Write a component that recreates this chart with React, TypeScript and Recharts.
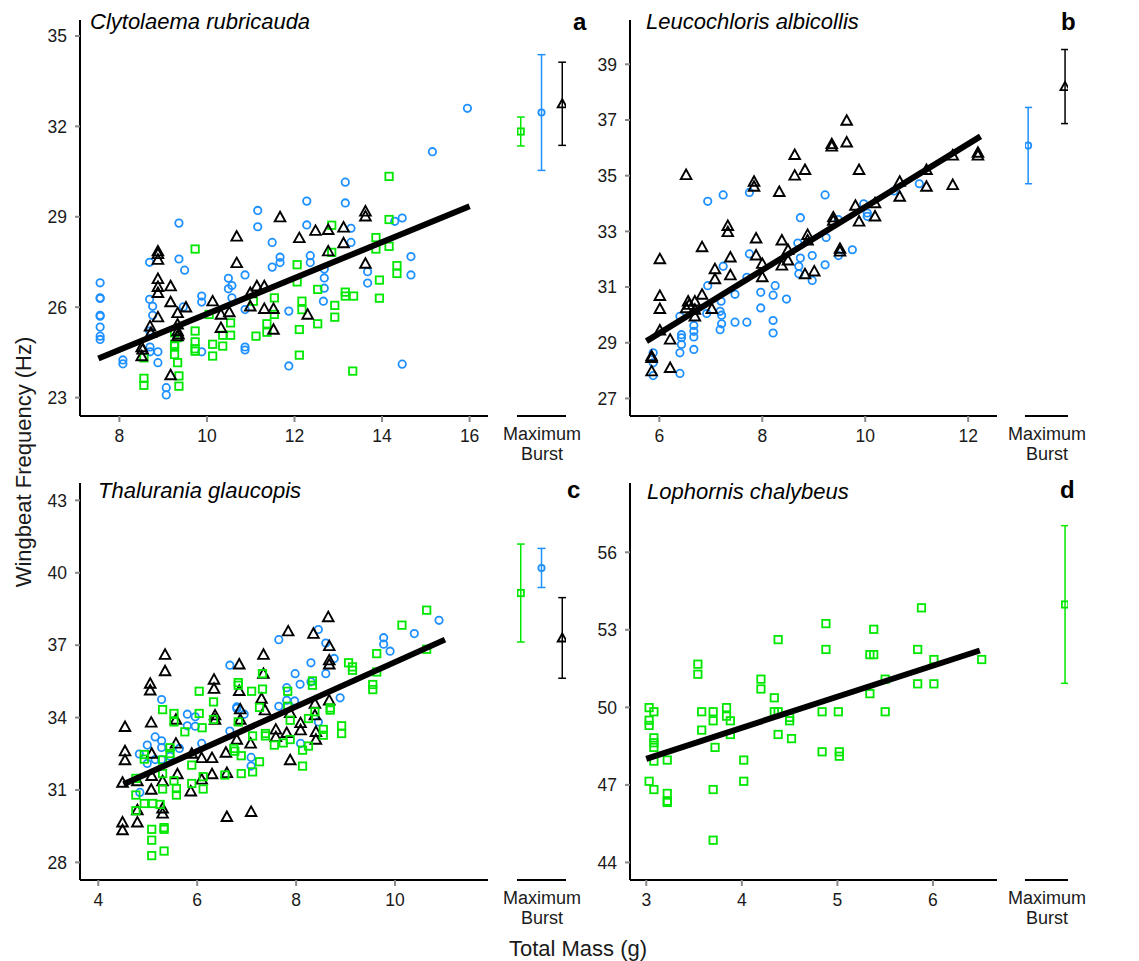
import React from "react";
import { ComposedChart, ErrorBar, Scatter, XAxis, YAxis } from "recharts";

const BLUE = "#1E90FF";
const GREEN = "#00E800";
const BLACK = "#000000";
const FONT = "'Liberation Sans', Arial, Helvetica, sans-serif";

type Row = [number, number];
type Point = { mass: number; hz: number };
type Mark = "circle" | "square" | "triangle";
type BurstPoint = { slot: number; hz: number; sd: number };

// panel a - Clytolaema rubricauda
const aCircles: Row[] = [
  [7.56, 26.81], [7.56, 26.31], [7.56, 26.29], [7.56, 25.73], [7.56, 25.7], [7.56, 25.34], [7.56, 25.04], [7.56, 24.93],
  [8.08, 24.25], [8.08, 24.12], [8.69, 27.49], [8.69, 26.26], [8.76, 26.03], [8.76, 25.73], [8.69, 25.21], [8.7, 24.68],
  [8.7, 24.52], [8.88, 24.52], [8.88, 24.16], [9.07, 23.33], [9.07, 23.09], [9.36, 28.79], [9.36, 27.6], [9.49, 27.23],
  [9.46, 26.01], [9.88, 26.37], [9.88, 26.17], [9.88, 24.52], [10.49, 26.96], [10.49, 26.61], [10.57, 26.72], [10.57, 26.31],
  [10.87, 27.07], [10.87, 25.92], [10.87, 24.68], [10.87, 24.58], [11.16, 29.21], [11.16, 28.67], [11.49, 28.15], [11.49, 27.33],
  [11.67, 27.66], [11.67, 27.48], [11.87, 25.87], [11.87, 24.05], [12.28, 29.52], [12.28, 28.73], [12.36, 27.71], [12.36, 27.48],
  [12.68, 27.27], [12.68, 26.97], [12.68, 26.63], [12.66, 26.2], [13.16, 30.15], [13.16, 29.46], [13.29, 28.62], [13.29, 28.15],
  [13.67, 27.18], [13.67, 26.8], [14.29, 28.85], [14.46, 28.96], [14.66, 27.68], [14.66, 27.07], [14.46, 24.11], [15.15, 31.16],
  [15.95, 32.6],
];
const aTriangles: Row[] = [
  [8.51, 24.68], [8.51, 24.38], [8.53, 24.6], [8.7, 25.37], [8.72, 25.15], [8.88, 27.86], [8.88, 27.77], [8.88, 27.58],
  [8.88, 26.94], [8.88, 26.68], [8.88, 26.48], [8.88, 25.67], [9.17, 26.7], [9.17, 26.17], [9.17, 23.75], [9.33, 25.81],
  [9.33, 25.43], [9.33, 25.21], [9.35, 25.1], [9.33, 25.04], [9.52, 26.0], [10.13, 26.2], [10.32, 25.76], [10.32, 25.32],
  [10.51, 25.84], [10.68, 28.35], [10.68, 27.47], [10.99, 26.48], [10.99, 26.03], [11.14, 26.7], [11.31, 26.7], [11.31, 25.95],
  [11.52, 25.95], [11.52, 25.26], [11.67, 28.99], [12.11, 28.3], [12.3, 25.76], [12.48, 28.54], [12.77, 28.57], [12.77, 27.86],
  [13.12, 28.65], [13.12, 28.13], [13.62, 29.18], [13.62, 29.02], [13.62, 27.45],
];
const aSquares: Row[] = [
  [8.56, 24.32], [8.56, 23.64], [8.56, 23.41], [9.26, 25.15], [9.26, 24.77], [9.26, 24.71], [9.26, 24.43], [9.33, 24.99],
  [9.33, 24.16], [9.36, 23.72], [9.36, 23.38], [9.73, 27.93], [9.73, 25.21], [9.73, 24.85], [9.73, 24.62], [9.73, 24.54],
  [10.05, 25.76], [10.13, 24.77], [10.13, 24.38], [10.36, 25.07], [10.36, 24.71], [10.54, 25.48], [10.54, 25.07], [11.06, 26.2],
  [11.12, 25.04], [11.37, 25.45], [11.37, 25.17], [11.54, 26.31], [11.54, 25.76], [12.06, 27.41], [12.06, 26.84], [12.11, 25.26],
  [12.11, 24.41], [12.17, 26.2], [12.17, 25.92], [12.53, 26.59], [12.53, 25.45], [12.85, 28.72], [12.85, 27.82], [12.92, 26.06],
  [12.92, 25.67], [13.16, 26.5], [13.16, 26.37], [13.35, 26.37], [13.33, 23.88], [13.86, 28.31], [13.86, 27.93], [13.94, 26.9],
  [13.94, 26.3], [14.16, 30.34], [14.16, 28.91], [14.16, 28.02], [14.34, 27.38], [14.34, 27.12],
];
const aFit: Row[] = [[7.52, 24.3], [16.0, 29.35]];
const aBurstSquare: BurstPoint[] = [{ slot: 0, hz: 31.83, sd: 0.48 }];
const aBurstCircle: BurstPoint[] = [{ slot: 1, hz: 32.46, sd: 1.92 }];
const aBurstTriangle: BurstPoint[] = [{ slot: 2, hz: 32.75, sd: 1.38 }];

// panel b - Leucochloris albicollis
const bTriangles: Row[] = [
  [5.85, 28.52], [5.85, 28.46], [5.85, 27.98], [6.01, 32.01], [6.01, 30.69], [6.01, 30.22], [6.01, 29.45], [6.21, 29.12],
  [6.21, 28.1], [6.52, 35.03], [6.52, 30.25], [6.56, 30.49], [6.58, 30.37], [6.69, 30.49], [6.69, 30.19], [6.69, 29.95],
  [6.83, 32.44], [6.83, 30.73], [7.02, 30.22], [7.08, 31.65], [7.08, 31.29], [7.33, 33.2], [7.33, 32.98], [7.38, 32.07],
  [7.38, 31.43], [7.84, 34.79], [7.84, 34.61], [7.88, 32.75], [7.88, 32.14], [8.0, 31.84], [8.0, 31.36], [8.33, 34.42],
  [8.38, 32.68], [8.38, 31.78], [8.5, 32.34], [8.5, 31.96], [8.63, 35.75], [8.63, 35.01], [8.83, 35.21], [8.83, 31.47],
  [8.88, 32.88], [8.88, 32.68], [9.01, 31.57], [9.35, 36.14], [9.35, 36.05], [9.38, 33.51], [9.38, 33.39], [9.51, 32.38],
  [9.51, 32.28], [9.64, 36.98], [9.64, 36.2], [9.81, 33.93], [9.88, 35.21], [9.88, 33.36], [10.19, 34.02], [10.19, 33.54],
  [10.67, 34.79], [10.67, 34.25], [11.19, 35.21], [11.19, 34.61], [11.7, 35.73], [11.7, 34.67], [12.19, 35.83], [12.19, 35.73],
];
const bCircles: Row[] = [
  [5.88, 28.64], [5.88, 28.28], [5.88, 27.82], [6.4, 29.95], [6.4, 28.64], [6.4, 27.9], [6.43, 29.29], [6.43, 29.18],
  [6.43, 28.94], [6.67, 29.62], [6.67, 29.41], [6.67, 29.21], [6.67, 28.76], [6.92, 30.05], [6.94, 31.05], [6.94, 34.08],
  [7.18, 30.13], [7.2, 30.49], [7.21, 29.99], [7.21, 29.68], [7.18, 29.47], [7.24, 34.31], [7.24, 31.75], [7.47, 30.74],
  [7.47, 29.74], [7.7, 29.74], [7.7, 31.35], [7.75, 34.4], [7.75, 32.19], [7.97, 30.81], [7.97, 30.25], [8.21, 30.71],
  [8.21, 29.35], [8.25, 31.05], [8.21, 29.8], [8.47, 30.57], [8.69, 32.58], [8.71, 31.75], [8.71, 31.48], [8.74, 33.49],
  [8.74, 32.04], [8.97, 32.13], [8.97, 31.24], [9.22, 34.31], [9.22, 31.8], [9.24, 32.78], [9.48, 32.13], [9.48, 33.42],
  [9.75, 32.34], [9.97, 33.99], [10.04, 33.66], [10.04, 33.54], [10.56, 34.45], [11.05, 34.71],
];
const bFit: Row[] = [[5.75, 29.06], [12.24, 36.41]];
const bBurstCircle: BurstPoint[] = [{ slot: 0, hz: 36.08, sd: 1.37 }];
const bBurstTriangle: BurstPoint[] = [{ slot: 2, hz: 38.2, sd: 1.33 }];

// panel c - Thalurania glaucopis
const cTriangles: Row[] = [
  [4.49, 31.31], [4.49, 29.66], [4.49, 29.34], [4.54, 33.62], [4.54, 32.61], [4.54, 32.24], [4.79, 30.17], [4.79, 29.66],
  [4.79, 31.37], [5.05, 35.41], [5.05, 35.13], [5.07, 33.8], [5.07, 31.02], [5.08, 32.51], [5.08, 31.59], [5.3, 30.24],
  [5.3, 30.03], [5.3, 31.37], [5.35, 36.61], [5.35, 35.93], [5.57, 32.93], [5.57, 33.92], [5.6, 31.66], [5.87, 30.95],
  [5.89, 32.51], [6.09, 32.33], [6.09, 31.44], [6.3, 32.33], [6.3, 31.66], [6.34, 35.58], [6.34, 35.2], [6.36, 34.1],
  [6.36, 33.92], [6.58, 32.55], [6.6, 31.71], [6.6, 29.89], [6.8, 33.09], [6.85, 36.21], [6.85, 35.11], [6.87, 34.35],
  [6.87, 33.92], [7.08, 32.93], [7.09, 30.1], [7.3, 34.79], [7.34, 36.61], [7.34, 35.82], [7.37, 34.31], [7.59, 33.51],
  [7.59, 33.2], [7.81, 33.37], [7.84, 37.58], [7.88, 32.24], [7.88, 34.2], [8.09, 33.78], [8.09, 33.48], [8.35, 37.48],
  [8.38, 34.58], [8.38, 34.1], [8.4, 33.41], [8.4, 33.09], [8.65, 38.17], [8.67, 36.97], [8.67, 36.38], [8.67, 36.21],
  [8.67, 34.72],
];
const cCircles: Row[] = [
  [4.83, 32.49], [4.84, 30.9], [4.99, 32.86], [4.99, 32.1], [5.15, 33.2], [5.15, 32.26], [5.28, 34.75], [5.28, 33.04],
  [5.28, 32.76], [5.28, 32.26], [5.45, 32.4], [5.64, 32.72], [5.8, 34.14], [5.8, 33.66], [5.96, 34.03], [5.96, 33.64],
  [6.09, 32.93], [6.66, 36.17], [6.66, 33.44], [6.8, 34.44], [6.8, 34.38], [6.95, 34.14], [7.09, 32.35], [7.09, 31.99],
  [7.65, 37.23], [7.65, 34.47], [7.81, 35.24], [7.81, 34.72], [7.97, 34.69], [7.98, 35.82], [8.08, 35.38], [8.09, 32.93],
  [8.3, 36.27], [8.3, 35.48], [8.45, 37.65], [8.45, 33.82], [8.6, 37.09], [8.6, 35.82], [8.77, 36.45], [8.89, 34.82],
  [9.77, 37.31], [9.77, 37.04], [9.9, 36.75], [10.39, 37.48], [10.89, 38.03],
];
const cSquares: Row[] = [
  [4.76, 31.48], [4.76, 30.79], [4.76, 30.14], [4.93, 32.47], [4.93, 32.28], [4.93, 30.44], [5.1, 30.44], [5.08, 29.37],
  [5.08, 28.92], [5.08, 28.28], [5.25, 30.4], [5.3, 34.33], [5.3, 32.24], [5.3, 31.68], [5.3, 31.04], [5.33, 29.44],
  [5.33, 29.37], [5.33, 28.47], [5.45, 32.75], [5.45, 32.51], [5.53, 34.17], [5.53, 33.82], [5.53, 31.38], [5.58, 31.06],
  [5.58, 30.79], [5.75, 33.41], [5.89, 32.03], [5.89, 31.27], [6.04, 35.09], [6.04, 34.17], [6.1, 33.58], [6.12, 31.55],
  [6.12, 31.04], [6.33, 34.65], [6.33, 33.92], [6.56, 31.62], [6.74, 32.72], [6.76, 32.61], [6.83, 35.45], [6.83, 35.34],
  [6.83, 33.82], [6.89, 32.42], [6.89, 31.68], [7.1, 35.09], [7.12, 33.24], [7.12, 31.75], [7.26, 32.17], [7.26, 34.42],
  [7.32, 35.82], [7.32, 35.18], [7.38, 33.34], [7.38, 33.24], [7.56, 32.86], [7.74, 32.95], [7.83, 35.09], [7.83, 34.47],
  [7.88, 33.89], [7.88, 33.09], [8.13, 32.65], [8.13, 31.99], [8.25, 32.82], [8.25, 33.96], [8.33, 35.52], [8.33, 35.34],
  [8.38, 34.24], [8.55, 33.51], [8.55, 33.27], [8.69, 34.4], [8.69, 34.31], [8.92, 33.66], [8.92, 33.34], [9.06, 36.27],
  [9.14, 36.1], [9.14, 35.96], [9.55, 35.37], [9.55, 35.16], [9.63, 36.65], [9.63, 35.89], [10.14, 37.83], [10.64, 38.45],
  [10.64, 36.83],
];
const cFit: Row[] = [[4.51, 31.24], [11.01, 37.23]];
const cBurstSquare: BurstPoint[] = [{ slot: 0, hz: 39.16, sd: 2.03 }];
const cBurstCircle: BurstPoint[] = [{ slot: 1, hz: 40.2, sd: 0.81 }];
const cBurstTriangle: BurstPoint[] = [{ slot: 2, hz: 37.3, sd: 1.67 }];

// panel d - Lophornis chalybeus
const dSquares: Row[] = [
  [3.03, 49.99], [3.03, 49.5], [3.03, 49.3], [3.03, 47.14], [3.08, 49.83], [3.08, 48.82], [3.08, 48.63], [3.08, 48.45],
  [3.08, 47.92], [3.08, 46.82], [3.22, 47.96], [3.22, 46.67], [3.22, 46.37], [3.22, 46.32], [3.54, 51.67], [3.54, 51.28],
  [3.58, 49.83], [3.58, 49.12], [3.7, 49.83], [3.7, 49.48], [3.7, 46.82], [3.7, 44.86], [3.72, 48.45], [3.84, 49.99],
  [3.84, 49.66], [3.88, 49.48], [3.88, 48.95], [4.02, 47.96], [4.02, 47.14], [4.2, 51.09], [4.2, 50.71], [4.34, 50.37],
  [4.34, 49.83], [4.38, 52.62], [4.38, 49.83], [4.38, 48.95], [4.5, 49.61], [4.5, 49.48], [4.52, 48.79], [4.84, 49.83],
  [4.84, 48.28], [4.88, 53.24], [4.88, 52.24], [5.01, 49.83], [5.02, 48.28], [5.02, 48.11], [5.34, 52.04], [5.34, 50.53],
  [5.38, 53.02], [5.38, 52.04], [5.5, 51.09], [5.5, 49.83], [5.84, 52.24], [5.84, 50.91], [5.88, 53.85], [6.01, 51.85],
  [6.01, 50.91], [6.51, 51.85],
];
const dFit: Row[] = [[3.0, 48.01], [6.49, 52.2]];
const dBurstSquare: BurstPoint[] = [{ slot: 2, hz: 53.98, sd: 3.05 }];

const toPoints = (rows: Row[]): Point[] => rows.map(([mass, hz]) => ({ mass, hz }));

function marker(kind: Mark, color: string, scale = 1) {
  return (props: any) => {
    const { cx, cy } = props;
    if (cx == null || cy == null) return <g />;
    if (kind === "circle") {
      return <circle cx={cx} cy={cy} r={3.7 * scale} fill="none" stroke={color} strokeWidth={1.8} />;
    }
    if (kind === "square") {
      const h = 3.7 * scale;
      return <rect x={cx - h} y={cy - h} width={2 * h} height={2 * h} fill="none" stroke={color} strokeWidth={1.8} />;
    }
    const s = 5.3 * scale;
    return (
      <polygon
        points={`${cx},${cy - s} ${cx - s},${cy + s * 0.8} ${cx + s},${cy + s * 0.8}`}
        fill="none"
        stroke={color}
        strokeWidth={1.9}
      />
    );
  };
}

const colorOf: Record<Mark, string> = { circle: BLUE, square: GREEN, triangle: BLACK };

type PanelProps = {
  plotLeft: number;
  plotTop: number;
  plotWidth: number;
  plotHeight: number;
  xDomain: [number, number];
  yDomain: [number, number];
  xTicks: number[];
  yTicks: number[];
  series: Array<{ mark: Mark; rows: Row[] }>;
  fit: Row[];
  burst: Array<{ mark: Mark; data: BurstPoint[] }>;
  burstLeft: number;
  burstWidth: number;
  burstDomain: [number, number];
};

const axisLineStyle = { stroke: "#000", strokeWidth: 2 };
const tickLineStyle = { stroke: "#8a8a8a", strokeWidth: 2 };

function XTick(props: any) {
  return (
    <text x={props.x} y={props.y} dy="0.75em" textAnchor="middle" fontSize={17.5} fontFamily={FONT} fill="#1a1a1a">
      {props.payload.value}
    </text>
  );
}

function YTick(props: any) {
  return (
    <text x={props.x} y={props.y} dy="0.36em" textAnchor="end" fontSize={17.5} fontFamily={FONT} fill="#1a1a1a">
      {props.payload.value}
    </text>
  );
}

function Panel(p: PanelProps) {
  return (
    <>
      <div style={{ position: "absolute", left: p.plotLeft - 50, top: p.plotTop - 10 }}>
        <ComposedChart
          width={p.plotWidth + 50}
          height={p.plotHeight + 50}
          margin={{ top: 10, right: 0, bottom: 0, left: 0 }}
        >
          <XAxis
            type="number"
            dataKey="mass"
            domain={p.xDomain}
            ticks={p.xTicks}
            interval={0}
            height={40}
            axisLine={axisLineStyle}
            tickLine={tickLineStyle}
            tickSize={6}
            tickMargin={7}
            tick={<XTick />}
          />
          <YAxis
            type="number"
            dataKey="hz"
            domain={p.yDomain}
            ticks={p.yTicks}
            interval={0}
            width={50}
            axisLine={axisLineStyle}
            tickLine={tickLineStyle}
            tickSize={5}
            tickMargin={8}
            tick={<YTick />}
          />
          {p.series.map((s) => (
            <Scatter
              key={s.mark}
              data={toPoints(s.rows)}
              shape={marker(s.mark, colorOf[s.mark])}
              isAnimationActive={false}
            />
          ))}
          <Scatter
            data={toPoints(p.fit)}
            line={{ stroke: "#000", strokeWidth: 6 }}
            shape={() => <g />}
            isAnimationActive={false}
          />
        </ComposedChart>
      </div>
      <div style={{ position: "absolute", left: p.burstLeft, top: p.plotTop - 10 }}>
        <ComposedChart
          width={p.burstWidth}
          height={p.plotHeight + 50}
          margin={{ top: 10, right: 0, bottom: 0, left: 0 }}
        >
          <XAxis
            type="number"
            dataKey="slot"
            domain={p.burstDomain}
            height={40}
            tick={false}
            tickLine={false}
            axisLine={axisLineStyle}
          />
          <YAxis type="number" dataKey="hz" domain={p.yDomain} hide />
          {p.burst.map((b) => (
            <Scatter
              key={b.mark}
              data={b.data}
              shape={marker(b.mark, colorOf[b.mark], 0.85)}
              isAnimationActive={false}
            >
              <ErrorBar dataKey="sd" direction="y" width={4} stroke={colorOf[b.mark]} strokeWidth={1.5} />
            </Scatter>
          ))}
        </ComposedChart>
      </div>
    </>
  );
}

function Labels() {
  const title = { fontFamily: FONT, fontSize: 22, fontStyle: "italic" as const, fill: "#000" };
  const letter = { fontFamily: FONT, fontSize: 24, fontWeight: 700, fill: "#000" };
  const small = { fontFamily: FONT, fontSize: 18, fill: "#1a1a1a", textAnchor: "middle" as const };
  return (
    <svg
      width={1139}
      height={961}
      style={{ position: "absolute", left: 0, top: 0, pointerEvents: "none" }}
    >
      <text x={90} y={29} {...title}>Clytolaema rubricauda</text>
      <text x={646} y={29} {...title}>Leucochloris albicollis</text>
      <text x={98} y={498} {...title}>Thalurania glaucopis</text>
      <text x={647} y={499} {...title}>Lophornis chalybeus</text>
      <text x={573} y={30} {...letter}>a</text>
      <text x={1061} y={30} {...letter}>b</text>
      <text x={567} y={498} {...letter}>c</text>
      <text x={1060} y={498} {...letter}>d</text>
      {[
        [542, 416],
        [1047, 416],
        [542, 880],
        [1047, 880],
      ].map(([cx, ay]) => (
        <g key={`${cx}-${ay}`}>
          <text x={cx} y={ay + 24} {...small}>Maximum</text>
          <text x={cx} y={ay + 44} {...small}>Burst</text>
        </g>
      ))}
      <text
        transform="translate(31,462) rotate(-90)"
        textAnchor="middle"
        fontFamily={FONT}
        fontSize={22}
        fill="#1a1a1a"
      >
        Wingbeat Frequency (Hz)
      </text>
      <text x={578} y={956} textAnchor="middle" fontFamily={FONT} fontSize={22} fill="#1a1a1a">
        Total Mass (g)
      </text>
    </svg>
  );
}

export default function App() {
  return (
    <div
      style={{
        position: "absolute",
        left: 0,
        top: 0,
        width: 1139,
        height: 961,
        background: "#fff",
        overflow: "hidden",
      }}
    >
      <Panel
        plotLeft={80}
        plotTop={20}
        plotWidth={408}
        plotHeight={396}
        xDomain={[7.1, 16.42]}
        yDomain={[22.39, 35.53]}
        xTicks={[8, 10, 12, 14, 16]}
        yTicks={[23, 26, 29, 32, 35]}
        series={[
          { mark: "circle", rows: aCircles },
          { mark: "square", rows: aSquares },
          { mark: "triangle", rows: aTriangles },
        ]}
        fit={aFit}
        burst={[
          { mark: "square", data: aBurstSquare },
          { mark: "circle", data: aBurstCircle },
          { mark: "triangle", data: aBurstTriangle },
        ]}
        burstLeft={517}
        burstWidth={49}
        burstDomain={[-0.18, 2.18]}
      />
      <Panel
        plotLeft={630}
        plotTop={20}
        plotWidth={367}
        plotHeight={396}
        xDomain={[5.43, 12.56]}
        yDomain={[26.37, 40.59]}
        xTicks={[6, 8, 10, 12]}
        yTicks={[27, 29, 31, 33, 35, 37, 39]}
        series={[
          { mark: "circle", rows: bCircles },
          { mark: "triangle", rows: bTriangles },
        ]}
        fit={bFit}
        burst={[
          { mark: "circle", data: bBurstCircle },
          { mark: "triangle", data: bBurstTriangle },
        ]}
        burstLeft={1025}
        burstWidth={43}
        burstDomain={[-0.17, 2.16]}
      />
      <Panel
        plotLeft={80}
        plotTop={483}
        plotWidth={408}
        plotHeight={397}
        xDomain={[3.63, 11.88]}
        yDomain={[27.27, 43.72]}
        xTicks={[4, 6, 8, 10]}
        yTicks={[28, 31, 34, 37, 40, 43]}
        series={[
          { mark: "circle", rows: cCircles },
          { mark: "triangle", rows: cTriangles },
          { mark: "square", rows: cSquares },
        ]}
        fit={cFit}
        burst={[
          { mark: "square", data: cBurstSquare },
          { mark: "circle", data: cBurstCircle },
          { mark: "triangle", data: cBurstTriangle },
        ]}
        burstLeft={517}
        burstWidth={49}
        burstDomain={[-0.18, 2.18]}
      />
      <Panel
        plotLeft={630}
        plotTop={483}
        plotWidth={367}
        plotHeight={397}
        xDomain={[2.83, 6.67]}
        yDomain={[43.32, 58.68]}
        xTicks={[3, 4, 5, 6]}
        yTicks={[44, 47, 50, 53, 56]}
        series={[{ mark: "square", rows: dSquares }]}
        fit={dFit}
        burst={[{ mark: "square", data: dBurstSquare }]}
        burstLeft={1025}
        burstWidth={43}
        burstDomain={[-0.17, 2.16]}
      />
      <Labels />
    </div>
  );
}
